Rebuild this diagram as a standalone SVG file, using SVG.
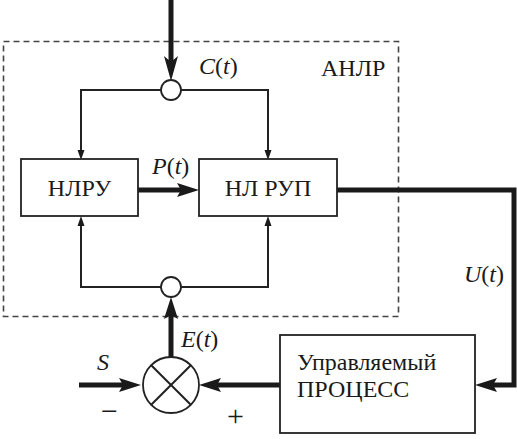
<svg xmlns="http://www.w3.org/2000/svg" width="517" height="439" viewBox="0 0 517 439">
<style>
.thin{fill:none;stroke:#222;stroke-width:2}
.thick{fill:none;stroke:#1a1a1a;stroke-width:5}
.head{fill:#1a1a1a;stroke:none}
.box{fill:#fff;stroke:#222;stroke-width:1.8}
.node{fill:#fff;stroke:#222;stroke-width:1.8}
.i{font-style:italic}
</style>
<rect x="0" y="0" width="517" height="439" fill="#fff"/>
<g font-family="Times New Roman, Liberation Serif, Tinos, DejaVu Serif, serif" font-size="24" fill="#1a1a1a">
<g id="anlr-frame">
<rect x="3.5" y="41.5" width="395" height="275" fill="none" stroke="#444" stroke-width="1.6" stroke-dasharray="6,4"/>
<text x="321" y="76">АНЛР</text>
</g>
<g id="connectors">
<line class="thick" x1="171" y1="0" x2="171" y2="64"/>
<path class="head" d="M164,56 L171,81 L178,56 L171,62 Z"/>
<polyline class="thin" points="81,152 81,90 268,90 268,152"/>
<path class="head" d="M77.5,150 L81,160 L84.5,150 Z"/>
<path class="head" d="M264.5,150 L268,160 L271.5,150 Z"/>
<polyline class="thin" points="81,224 81,287 268,287 268,224"/>
<path class="head" d="M77.5,226 L81,216 L84.5,226 Z"/>
<path class="head" d="M264.5,226 L268,216 L271.5,226 Z"/>
<line class="thick" x1="138" y1="190" x2="184" y2="190" stroke-width="6"/>
<path class="head" d="M177,183 L199,190 L177,197 L181,190 Z"/>
<polyline class="thick" points="337,190 514,190 514,385 492,385"/>
<path class="head" d="M497,378 L475,385 L497,392 L493,385 Z"/>
<line class="thick" x1="280" y1="385" x2="214" y2="385"/>
<path class="head" d="M221,378 L199,385 L221,392 L217,385 Z"/>
<line class="thick" x1="79" y1="385" x2="126" y2="385"/>
<path class="head" d="M119,378 L141,385 L119,392 L123,385 Z"/>
<line class="thick" x1="171" y1="357" x2="171" y2="312"/>
<path class="head" d="M164,319 L171,297 L178,319 L171,315 Z"/>
</g>
<g id="c-node">
<circle class="node" cx="171" cy="90" r="10"/>
<text x="199" y="74"><tspan class="i">C</tspan>(<tspan class="i">t</tspan>)</text>
</g>
<g id="e-node">
<circle class="node" cx="171" cy="287" r="10"/>
</g>
<g id="nlru">
<rect class="box" x="21" y="159" width="117" height="57"/>
<text x="79.5" y="196" text-anchor="middle">НЛРУ</text>
</g>
<text x="152" y="174"><tspan class="i">P</tspan>(<tspan class="i">t</tspan>)</text>
<g id="nl-rup">
<rect class="box" x="199" y="159" width="138" height="57"/>
<text x="268" y="196" text-anchor="middle">НЛ РУП</text>
</g>
<text x="464" y="282"><tspan class="i">U</tspan>(<tspan class="i">t</tspan>)</text>
<g id="process">
<rect class="box" x="280" y="335" width="195" height="98"/>
<text x="297" y="370">Управляемый</text>
<text x="297" y="397">ПРОЦЕСС</text>
</g>
<g id="summer">
<circle class="node" cx="171" cy="385" r="28"/>
<line class="thin" x1="151.2" y1="365.2" x2="190.8" y2="404.8" stroke-width="1.6"/>
<line class="thin" x1="190.8" y1="365.2" x2="151.2" y2="404.8" stroke-width="1.6"/>
</g>
<text x="181" y="347"><tspan class="i">E</tspan>(<tspan class="i">t</tspan>)</text>
<text class="i" x="97" y="370">S</text>
<text x="101" y="421" font-size="30">−</text>
<text x="227" y="426" font-size="30">+</text>
</g>
</svg>
